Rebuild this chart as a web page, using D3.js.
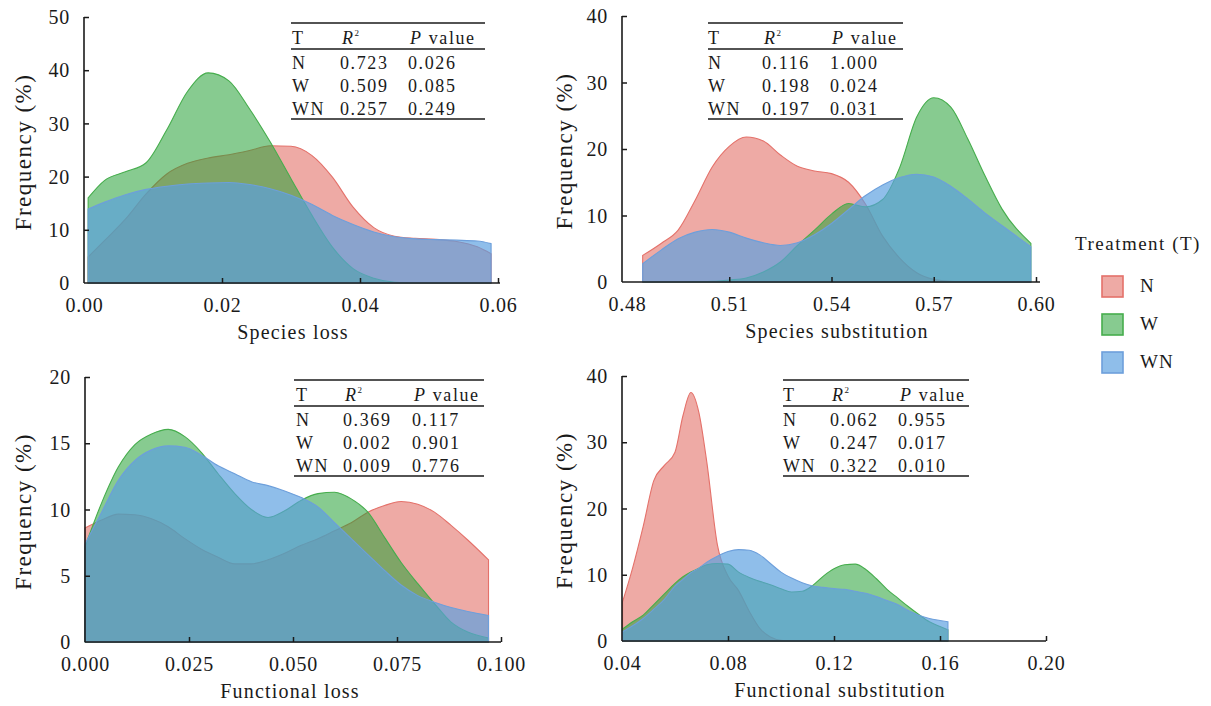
<!DOCTYPE html>
<html>
<head>
<meta charset="utf-8">
<script src="https://cdn.jsdelivr.net/npm/d3@7"></script>
<style>
    body { margin: 0; background: #fff; }
    svg text { font-family: "Liberation Serif", "DejaVu Serif", serif !important; fill: #1a1a1a; }
</style>
</head>
<body>
<svg id="chart" width="1211" height="706" font-family="Liberation Serif, DejaVu Serif, serif"></svg>
<script>
(function () {
    var treatments = ['N', 'W', 'WN'];

    // species loss
    var slX = [0.0006, 0.003, 0.006, 0.009, 0.012, 0.015, 0.018, 0.021, 0.024, 0.027, 0.030,
               0.033, 0.036, 0.039, 0.042, 0.045, 0.048, 0.051, 0.054, 0.057, 0.059];
    var slN = [4.9, 8, 12, 16.75, 20.5, 22.5, 23.5, 24.1, 24.9, 25.8, 25.7,
               24, 19.9, 14.25, 10.4, 8.8, 8.4, 8.2, 7.8, 6.8, 5.5];
    var slW = [16, 19.3, 20.9, 22.6, 28.8, 36, 39.5, 38, 32.7, 26.5, 19.6,
               12.8, 6.75, 2.7, 0.9, 0.15, 0, 0, 0, 0, 0];
    var slWN = [13.9, 15.2, 16.6, 17.6, 18.2, 18.6, 18.8, 18.9, 18.5, 17.7, 16.5,
                14.8, 12.7, 11.0, 9.6, 8.7, 8.3, 8.15, 8.05, 7.9, 7.4];

    // species substitution
    var ssX = [0.4846, 0.490, 0.495, 0.500, 0.505, 0.510, 0.515, 0.520, 0.525, 0.530, 0.535, 0.540,
               0.545, 0.550, 0.555, 0.560, 0.565, 0.570, 0.575, 0.580, 0.585, 0.590, 0.5985];
    var ssN = [4.0, 5.8, 7.8, 12.3, 17.3, 20.4, 21.8, 21.2, 19.1, 17.4, 16.7, 16.3,
               15.0, 11.7, 6.9, 3.6, 1.4, 0.4, 0.1, 0, 0, 0, 0];
    var ssW = [0, 0, 0, 0.05, 0.1, 0.3, 0.6, 1.5, 3.0, 5.5, 7.8, 10.2,
               11.8, 11.3, 12.4, 17.2, 24.8, 27.7, 26.3, 21.5, 16.0, 11.0, 5.8];
    var ssWN = [2.75, 4.8, 6.5, 7.5, 7.9, 7.5, 6.6, 5.9, 5.5, 5.9, 7.1, 8.8,
                10.9, 13.0, 14.6, 15.7, 16.2, 15.8, 14.4, 12.5, 10.4, 8.5, 5.3];

    // functional loss
    var flX = [0, 0.004, 0.008, 0.012, 0.016, 0.020, 0.024, 0.028, 0.032, 0.036, 0.040, 0.044, 0.048,
               0.052, 0.056, 0.060, 0.064, 0.068, 0.072, 0.076, 0.080, 0.084, 0.088, 0.092, 0.097];
    var flN = [8.6, 9.2, 9.65, 9.6, 9.3, 8.7, 7.8, 7.0, 6.4, 5.9, 5.9, 6.2, 6.7,
               7.3, 7.8, 8.4, 9.0, 9.8, 10.3, 10.6, 10.4, 9.8, 8.8, 7.7, 6.2];
    var flW = [7.2, 10.5, 13.2, 14.9, 15.7, 16.05, 15.5, 14.3, 12.7, 11.2, 10.0, 9.4, 9.9,
               10.7, 11.2, 11.3, 10.8, 9.8, 7.9, 6.0, 4.4, 2.9, 1.5, 0.75, 0.3];
    var flWN = [7.4, 9.8, 12.2, 13.7, 14.5, 14.8, 14.7, 14.1, 13.3, 12.7, 12.1, 11.8, 11.4,
                10.9, 10.2, 9.0, 7.8, 6.6, 5.4, 4.3, 3.5, 3.0, 2.6, 2.3, 2.0];

    // functional substitution
    var fsX = [0.0402, 0.044, 0.048, 0.052, 0.056, 0.060, 0.063, 0.066, 0.069, 0.072, 0.076,
               0.080, 0.084, 0.088, 0.092, 0.096, 0.100, 0.104, 0.108, 0.112, 0.116, 0.120,
               0.124, 0.128, 0.132, 0.136, 0.140, 0.144, 0.148, 0.152, 0.156, 0.160, 0.163];
    var fsN = [5.9, 11, 17.3, 24.2, 26.5, 28.5, 34, 37.5, 34.5, 27, 14.5,
               9.8, 7.6, 4.5, 1.9, 0.6, 0.1, 0, 0, 0, 0, 0,
               0, 0, 0, 0, 0, 0, 0, 0, 0, 0, 0];
    var fsW = [1.8, 2.9, 3.9, 5.5, 7.1, 8.7, 9.7, 10.4, 11.0, 11.5, 11.7,
               11.6, 10.4, 9.6, 9.0, 8.5, 7.9, 7.4, 7.5, 8.4, 9.8, 10.9,
               11.5, 11.6, 10.8, 9.4, 7.8, 6.5, 5.2, 4.0, 2.9, 2.2, 1.7];
    var fsWN = [1.4, 2.3, 3.4, 4.8, 6.3, 8.3, 9.3, 10.3, 11.0, 11.9, 12.8,
                13.5, 13.8, 13.7, 13.0, 11.7, 10.4, 9.5, 8.8, 8.3, 8.1, 7.9,
                7.8, 7.5, 7.2, 6.7, 6.1, 5.5, 4.6, 3.9, 3.4, 3.1, 2.9];

    // tables: T, R2, P value
    var slStats = [['N', '0.723', '0.026'], ['W', '0.509', '0.085'], ['WN', '0.257', '0.249']];
    var ssStats = [['N', '0.116', '1.000'], ['W', '0.198', '0.024'], ['WN', '0.197', '0.031']];
    var flStats = [['N', '0.369', '0.117'], ['W', '0.002', '0.901'], ['WN', '0.009', '0.776']];
    var fsStats = [['N', '0.062', '0.955'], ['W', '0.247', '0.017'], ['WN', '0.322', '0.010']];

    var slTicks = [0, 0.02, 0.04, 0.06];
    var ssTicks = [0.48, 0.51, 0.54, 0.57, 0.60];
    var flTicks = [0, 0.025, 0.05, 0.075, 0.1];
    var fsTicks = [0.04, 0.08, 0.12, 0.16, 0.20];
    var yTicks50 = [0, 10, 20, 30, 40, 50];
    var yTicks40 = [0, 10, 20, 30, 40];
    var yTicks20 = [0, 5, 10, 15, 20];

    var fills = { 'N': '#dd554b', 'W': '#25a135', 'WN': '#5a9fe0' };
    var alphas = { 'N': 0.5, 'W': 0.55, 'WN': 0.68 };
    var strokes = { 'N': '#e4716a', 'W': '#46ad4d', 'WN': '#6d9fdb' };
    var serif = 'Liberation Serif, DejaVu Serif, serif';

    var panels = [
        { xs: slX, series: [slN, slW, slWN], xDomain: [0, 0.06], xRange: [84, 498], axisX: [84, 500],
          yDomain: [0, 50], yRange: [283, 17], xTicks: slTicks, yTicks: yTicks50, fmt: '.2f',
          title: 'Species loss', titleX: 293, yTitleX: 31, stats: slStats,
          tbl: { x0: 291, x1: 485, top: 23, cols: [292, 340, 408] } },
        { xs: ssX, series: [ssN, ssW, ssWN], xDomain: [0.48, 0.60], xRange: [627, 1036], axisX: [622, 1040],
          yDomain: [0, 40], yRange: [282, 16], xTicks: ssTicks, yTicks: yTicks40, fmt: '.2f',
          title: 'Species substitution', titleX: 837, yTitleX: 572, stats: ssStats,
          tbl: { x0: 708, x1: 903, top: 23, cols: [708, 762, 830] } },
        { xs: flX, series: [flN, flW, flWN], xDomain: [0, 0.1], xRange: [85, 501], axisX: [85, 501],
          yDomain: [0, 20], yRange: [642, 377], xTicks: flTicks, yTicks: yTicks20, fmt: '.3f',
          title: 'Functional loss', titleX: 290, yTitleX: 31, stats: flStats,
          tbl: { x0: 294, x1: 484, top: 380, cols: [296, 343, 412] } },
        { xs: fsX, series: [fsN, fsW, fsWN], xDomain: [0.04, 0.20], xRange: [622, 1046], axisX: [622, 1046],
          yDomain: [0, 40], yRange: [641, 376], xTicks: fsTicks, yTicks: yTicks40, fmt: '.2f',
          title: 'Functional substitution', titleX: 840, yTitleX: 572, stats: fsStats,
          tbl: { x0: 783, x1: 969, top: 380, cols: [783, 830, 898] } }
    ];

    var svg = d3.select('#chart');

    panels.forEach(function (p) {
        var x = d3.scaleLinear().domain(p.xDomain).range(p.xRange);
        var y = d3.scaleLinear().domain(p.yDomain).range(p.yRange);
        var g = svg.append('g');

        var area = d3.area()
            .x(function (d) { return x(d[0]); })
            .y0(y(0))
            .y1(function (d) { return y(d[1]); })
            .curve(d3.curveMonotoneX);

        p.series.forEach(function (vals, i) {
            var t = treatments[i];
            g.append('path')
                .datum(p.xs.map(function (v, j) { return [v, vals[j]]; }))
                .attr('d', area)
                .attr('fill', fills[t])
                .attr('fill-opacity', alphas[t])
                .attr('stroke', strokes[t])
                .attr('stroke-width', 1.1);
        });

        // axes
        var xAxis = g.append('g')
            .attr('transform', 'translate(0,' + y(0) + ')')
            .call(d3.axisBottom(x).tickValues(p.xTicks).tickSize(-5).tickFormat(d3.format(p.fmt)));
        xAxis.attr('font-family', serif);
        xAxis.select('.domain').remove();
        xAxis.selectAll('.tick line').attr('stroke', '#1a1a1a').attr('stroke-width', 1.5)
            .attr('opacity', function (d, i) { return i === 0 ? 0 : 1; });
        xAxis.selectAll('.tick text')
            .attr('y', 29).attr('dy', null)
            .style('font-size', '20px').style('letter-spacing', '0.8px').attr('fill', '#1a1a1a');

        var yAxis = g.append('g')
            .attr('transform', 'translate(' + p.axisX[0] + ',0)')
            .call(d3.axisLeft(y).tickValues(p.yTicks).tickSize(-5).tickPadding(14));
        yAxis.attr('font-family', serif);
        yAxis.select('.domain').remove();
        yAxis.selectAll('.tick line').attr('stroke', '#1a1a1a').attr('stroke-width', 1.5)
            .attr('opacity', function (d, i) { return i === 0 ? 0 : 1; });
        yAxis.selectAll('.tick text')
            .attr('dy', '0.33em')
            .style('font-size', '20px').style('letter-spacing', '0.8px').attr('fill', '#1a1a1a');

        g.append('line')
            .attr('x1', p.axisX[0]).attr('x2', p.axisX[1])
            .attr('y1', y(0)).attr('y2', y(0))
            .attr('stroke', '#1a1a1a').attr('stroke-width', 1.6);
        g.append('line')
            .attr('x1', p.axisX[0]).attr('x2', p.axisX[0])
            .attr('y1', y(0)).attr('y2', p.yRange[1])
            .attr('stroke', '#1a1a1a').attr('stroke-width', 1.6);

        // titles
        g.append('text')
            .attr('x', p.titleX).attr('y', y(0) + 56)
            .attr('text-anchor', 'middle')
            .style('font-size', '20px').style('letter-spacing', '1.2px')
            .text(p.title);
        var cy = (p.yRange[0] + p.yRange[1]) / 2 + 2;
        g.append('text')
            .attr('transform', 'translate(' + p.yTitleX + ',' + cy + ') rotate(-90)')
            .attr('text-anchor', 'middle')
            .style('font-size', '23px').style('letter-spacing', '1.5px')
            .text('Frequency (%)');

        // stats table
        var tb = p.tbl;
        var tg = g.append('g').style('font-size', '18px').style('letter-spacing', '1.6px');
        [tb.top, tb.top + 26, tb.top + 96].forEach(function (ly, i) {
            tg.append('line')
                .attr('x1', tb.x0).attr('x2', tb.x1)
                .attr('y1', ly).attr('y2', ly)
                .attr('stroke', '#1a1a1a').attr('stroke-width', i === 1 ? 1.3 : 1.7);
        });
        tg.append('text').attr('x', tb.cols[0]).attr('y', tb.top + 21).text('T');
        var r2 = tg.append('text').attr('x', tb.cols[1] + 2).attr('y', tb.top + 21);
        r2.append('tspan').style('font-style', 'italic').text('R');
        r2.append('tspan').attr('dy', -8).style('font-size', '9px').text('2');
        var pv = tg.append('text').attr('x', tb.cols[2] + 2).attr('y', tb.top + 21);
        pv.append('tspan').style('font-style', 'italic').text('P');
        pv.append('tspan').text(' value');
        p.stats.forEach(function (row, i) {
            var by = tb.top + 46 + i * 23;
            row.forEach(function (cell, j) {
                tg.append('text').attr('x', tb.cols[j]).attr('y', by).text(cell);
            });
        });
    });

    // legend
    var leg = svg.append('g');
    leg.append('text')
        .attr('x', 1075).attr('y', 250)
        .style('font-size', '19px').style('letter-spacing', '1.5px')
        .text('Treatment (T)');
    treatments.forEach(function (t, i) {
        var ty = [276, 314, 352][i];
        leg.append('rect')
            .attr('x', 1102).attr('y', ty).attr('width', 21).attr('height', 21)
            .attr('fill', fills[t]).attr('fill-opacity', alphas[t])
            .attr('stroke', strokes[t]).attr('stroke-width', 1.6);
        leg.append('text')
            .attr('x', 1140).attr('y', ty + 16)
            .style('font-size', '19px').style('letter-spacing', '1px')
            .text(t);
    });
})();
</script>
</body>
</html>
